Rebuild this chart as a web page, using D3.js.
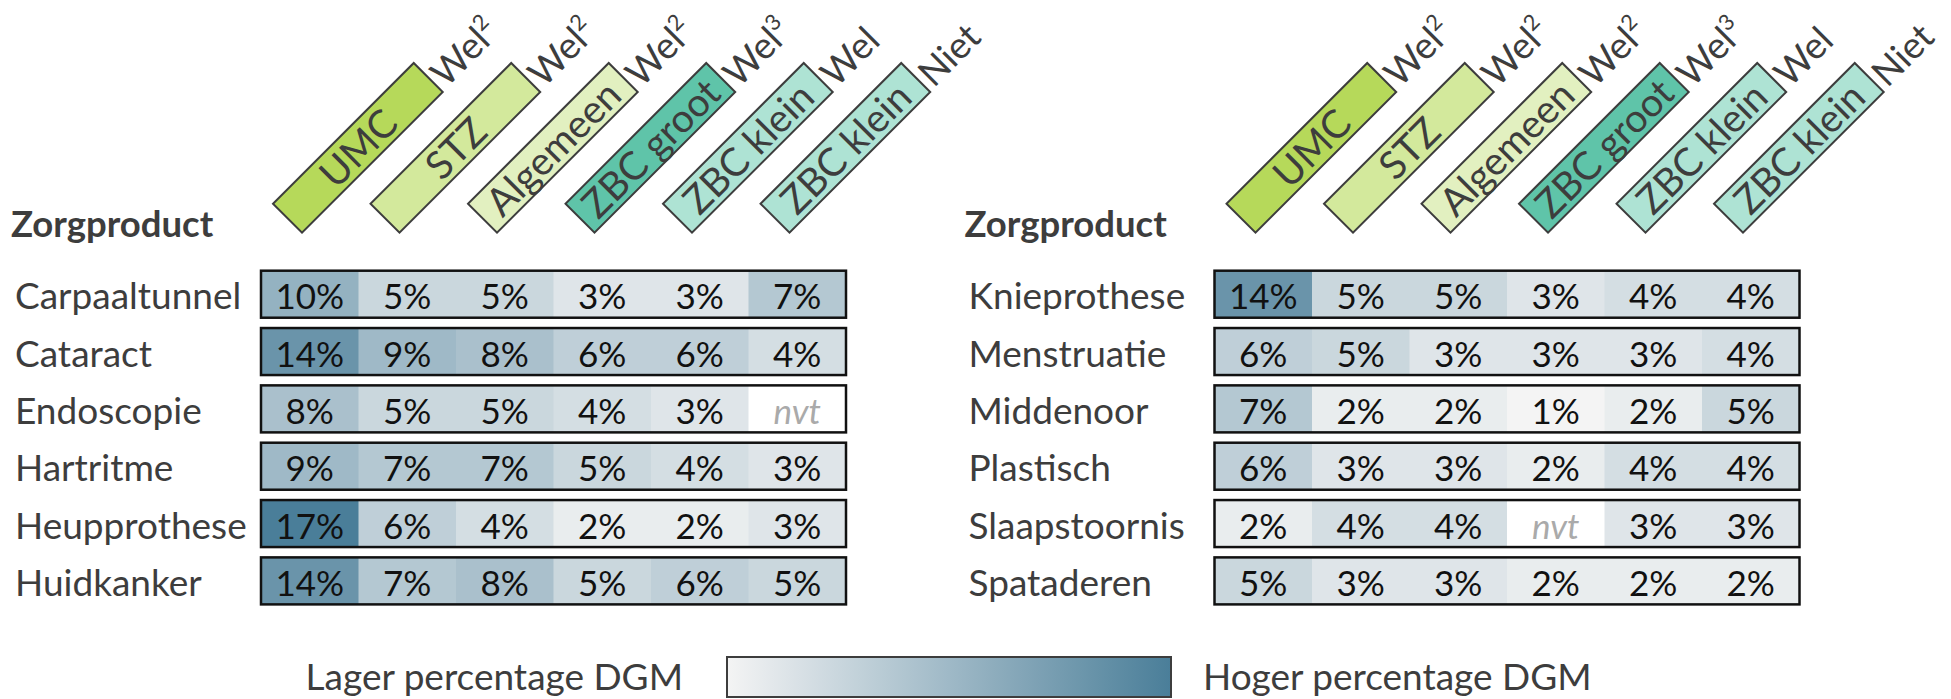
<!DOCTYPE html>
<html>
<head>
<meta charset="utf-8">
<script src="https://cdn.jsdelivr.net/npm/d3@7"></script>
<style>
  body { margin: 0; background: #fff; }
  svg { display: block; font-family: Lato, sans-serif; }
  .rowlabel { fill: #3d3d3d; font-size: 37px; }
  .value { fill: #111; font-size: 35px; }
  .nvt { fill: #aaa; font-style: italic; }
  .title { fill: #3d3d3d; font-size: 36.5px; font-weight: bold; }
  .colname { fill: #3d3d3d; font-size: 39px; }
  .note { fill: #3d3d3d; font-size: 37px; }
  .legend-text { fill: #3d3d3d; font-size: 37px; }
</style>
</head>
<body>
<svg width="1951" height="699"></svg>
<script>
(function () {

const columns = ['UMC', 'STZ', 'Algemeen', 'ZBC groot', 'ZBC klein', 'ZBC klein (niet)'];
const columnNames = ['UMC', 'STZ', 'Algemeen', 'ZBC groot', 'ZBC klein', 'ZBC klein'];
const columnNotes = ['Wel', 'Wel', 'Wel', 'Wel', 'Wel', 'Niet'];
const columnSups = ['2', '2', '2', '3', '', ''];

const leftRows = ['Carpaaltunnel', 'Cataract', 'Endoscopie', 'Hartritme', 'Heupprothese', 'Huidkanker'];
const leftValues = [
  [10, 5, 5, 3, 3, 7],
  [14, 9, 8, 6, 6, 4],
  [8, 5, 5, 4, 3, null],
  [9, 7, 7, 5, 4, 3],
  [17, 6, 4, 2, 2, 3],
  [14, 7, 8, 5, 6, 5]
];

const rightRows = ['Knieprothese', 'Menstruatie', 'Middenoor', 'Plastisch', 'Slaapstoornis', 'Spataderen'];
const rightValues = [
  [14, 5, 5, 3, 4, 4],
  [6, 5, 3, 3, 3, 4],
  [7, 2, 2, 1, 2, 5],
  [6, 3, 3, 2, 4, 4],
  [2, 4, 4, null, 3, 3],
  [5, 3, 3, 2, 2, 2]
];

const legendLabels = ['Lager percentage DGM', 'Hoger percentage DGM'];

const mapColumnToColor = {
  'UMC': '#b6d95a', 'STZ': '#d3e99c', 'Algemeen': '#e2f0c0',
  'ZBC groot': '#5fc4a9', 'ZBC klein': '#aee3d4', 'ZBC klein (niet)': '#aee3d4'
};
const lowColor = '#f4f4f4',
  highColor = '#4a7e99';

const svg = d3.select('svg'),
  tableWidth = 585,
  tableLeft = 261,
  labelLeft = 15,
  boxLength = 199,
  boxHeight = 41;

const color = d3.scaleLinear()
  .domain([1, 17])
  .range([lowColor, highColor])
  .interpolate(d3.interpolateRgb);

const x = d3.scaleBand()
  .domain(d3.range(columns.length))
  .range([0, tableWidth]);

function makeTable(parent, offset, rows, values) {
  const g = parent.append('g')
    .attr('transform', 'translate(' + offset + ',0)');

  const y = d3.scaleBand()
    .domain(rows)
    .range([270.7, 604.4])
    .paddingInner(0.18);

  g.append('text')
    .attr('class', 'title')
    .attr('x', labelLeft - 4)
    .attr('y', 237)
    .text('Zorgproduct');

  // rotated column headers
  const header = g.selectAll('.header')
    .data(columns)
    .enter().append('g')
      .attr('class', 'header')
      .attr('transform', function(d, i) { return 'translate(' + (tableLeft + x(i) + 41) + ',232.7) rotate(-45)'; });

  header.append('rect')
    .attr('x', 0)
    .attr('y', -boxHeight)
    .attr('width', boxLength)
    .attr('height', boxHeight)
    .attr('fill', function(d) { return mapColumnToColor[d]; })
    .attr('stroke', '#3d3d3d')
    .attr('stroke-width', 2);

  header.append('text')
    .attr('class', 'colname')
    .attr('x', boxLength / 2)
    .attr('y', -6)
    .attr('text-anchor', 'middle')
    .text(function(d, i) { return columnNames[i]; });

  const note = header.append('text')
    .attr('class', 'note')
    .attr('x', boxLength + 5)
    .attr('y', 0);
  note.append('tspan')
    .text(function(d, i) { return columnNotes[i]; });
  note.append('tspan')
    .attr('dy', -15)
    .style('font-size', '22px')
    .text(function(d, i) { return columnSups[i]; });

  const row = g.selectAll('.row')
    .data(rows)
    .enter().append('g')
      .attr('class', 'row')
      .attr('transform', function(d) { return 'translate(0,' + y(d) + ')'; });

  row.append('text')
    .attr('class', 'rowlabel')
    .attr('x', labelLeft)
    .attr('y', y.bandwidth() / 2 + 15)
    .text(function(d) { return d; });

  const cell = row.selectAll('.cell')
    .data(function(d, i) { return values[i]; })
    .enter().append('g')
      .attr('class', 'cell')
      .attr('transform', function(d, i) { return 'translate(' + (tableLeft + x(i)) + ',0)'; });

  cell.append('rect')
    .attr('width', x.bandwidth() + 0.5)
    .attr('height', y.bandwidth())
    .attr('fill', function(d) { return d === null ? '#fff' : color(d); });

  cell.append('text')
    .attr('class', function(d) { return d === null ? 'value nvt' : 'value'; })
    .attr('x', x.bandwidth() / 2)
    .attr('y', y.bandwidth() / 2 + 15)
    .attr('text-anchor', 'middle')
    .text(function(d) { return d === null ? 'nvt' : d + '%'; });

  row.append('rect')
    .attr('x', tableLeft)
    .attr('width', tableWidth)
    .attr('height', y.bandwidth())
    .attr('fill', 'none')
    .attr('stroke', '#111')
    .attr('stroke-width', 2.5);
}

function makeLegend(parent) {
  const defs = parent.append('defs');
  const grad = defs.append('linearGradient')
    .attr('id', 'legend-gradient');
  grad.selectAll('stop')
    .data(d3.range(0, 1.01, 0.1))
    .enter().append('stop')
      .attr('offset', function(d) { return d * 100 + '%'; })
      .attr('stop-color', function(d) { return color(1 + d * 16); });

  const lx = d3.scaleLinear().domain([0, 1]).range([727, 1171]);

  parent.append('rect')
    .attr('x', lx(0))
    .attr('y', 657)
    .attr('width', lx(1) - lx(0))
    .attr('height', 40)
    .attr('fill', 'url(#legend-gradient)')
    .attr('stroke', '#3d3d3d')
    .attr('stroke-width', 2);

  parent.append('text')
    .attr('class', 'legend-text')
    .attr('x', lx(0) - 44)
    .attr('y', 690)
    .attr('text-anchor', 'end')
    .text(legendLabels[0]);

  parent.append('text')
    .attr('class', 'legend-text')
    .attr('x', lx(1) + 32)
    .attr('y', 690)
    .text(legendLabels[1]);
}

makeTable(svg, 0, leftRows, leftValues);
makeTable(svg, 953.5, rightRows, rightValues);
makeLegend(svg);

})();
</script>
</body>
</html>
